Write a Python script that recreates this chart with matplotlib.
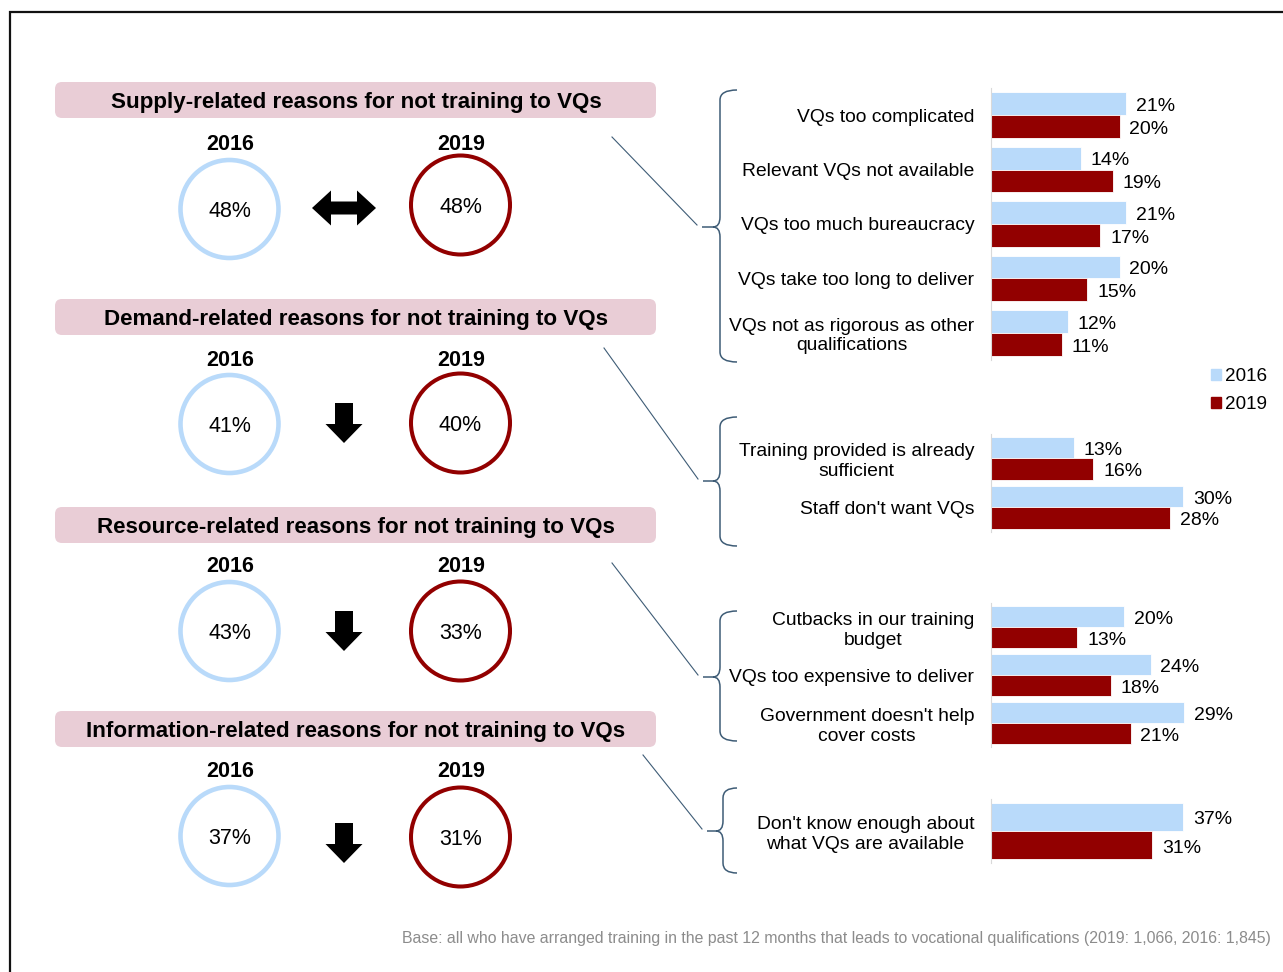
import matplotlib.pyplot as plt
import matplotlib.patches as mpatches
from matplotlib.path import Path
import numpy as np

plt.rcParams['font.family'] = ['Liberation Sans', 'DejaVu Sans']

W, H = 1283, 972
LIGHT = '#B9DAFA'
DARK = '#920000'
PINK = '#E9CDD6'
BRACE = '#3E5C76'

years = ['2016', '2019']

# headline share for each group of reasons
groups = ['Supply-related reasons for not training to VQs',
          'Demand-related reasons for not training to VQs',
          'Resource-related reasons for not training to VQs',
          'Information-related reasons for not training to VQs']
overall_2016 = [48, 41, 43, 37]
overall_2019 = [48, 40, 33, 31]

# detailed reasons within each group
supply_labels = ['VQs too complicated', 'Relevant VQs not available',
                 'VQs too much bureaucracy', 'VQs take too long to deliver',
                 'VQs not as rigorous as other\nqualifications']
supply_2016 = [21, 14, 21, 20, 12]
supply_2019 = [20, 19, 17, 15, 11]

demand_labels = ['Training provided is already\nsufficient', "Staff don't want VQs"]
demand_2016 = [13, 30]
demand_2019 = [16, 28]

resource_labels = ['Cutbacks in our training\nbudget', 'VQs too expensive to deliver',
                   "Government doesn't help\ncover costs"]
resource_2016 = [20, 24, 29]
resource_2019 = [13, 18, 21]

info_labels = ["Don't know enough about\nwhat VQs are available"]
info_2016 = [37]
info_2019 = [31]

footnote = ('Base: all who have arranged training in the past 12 months that leads to '
            'vocational qualifications (2019: 1,066, 2016: 1,845)')

# pixel layout: header centre, year label row, circle centres, arrow centre
rows = [(100, 142, 209, 205, 208),
        (317, 358, 424, 423, 423),
        (525, 564, 631, 631, 631),
        (729, 769, 836, 837, 843)]
# bar panels: top, bottom, pixels per percent, bar height
panels = [(88, 360, 6.43, 0.42),
          (434, 532, 6.4, 0.43),
          (603, 747, 6.65, 0.43),
          (799, 863, 5.2, 0.445)]
# braces: top, tip, bottom, spine x, tip x ; connectors start point
braces = [(90, 227, 362, 720, 702, (612, 137)),
          (417, 481, 546, 720, 703, (604, 348)),
          (611, 677, 741, 720, 703, (612, 563)),
          (788, 831, 873, 723, 707, (643, 755))]

fig = plt.figure(figsize=(W / 100, H / 100), dpi=100)
canvas = fig.add_axes([0, 0, 1, 1])
canvas.set_xlim(0, W)
canvas.set_ylim(H, 0)
canvas.axis('off')

# frame
canvas.plot([9.5, 9.5, W], [H, 12, 12], color='#111111', lw=1.6, solid_joinstyle='miter')


def arrow_points(kind, cx, cy):
    if kind == 'same':
        hw, hh, sh, hl = 32, 17.5, 6.5, 19
        return [(cx - hw, cy), (cx - hw + hl, cy - hh), (cx - hw + hl, cy - sh),
                (cx + hw - hl, cy - sh), (cx + hw - hl, cy - hh), (cx + hw, cy),
                (cx + hw - hl, cy + hh), (cx + hw - hl, cy + sh),
                (cx - hw + hl, cy + sh), (cx - hw + hl, cy + hh)]
    top = cy - 20
    return [(cx - 9, top), (cx + 9, top), (cx + 9, top + 21), (cx + 18.5, top + 21),
            (cx, top + 40), (cx - 18.5, top + 21), (cx - 9, top + 21)]


dy = 2.5  # nudge for text centred on its full box
for i, (hy, yy, c16, c19, ay) in enumerate(rows):
    canvas.add_patch(mpatches.FancyBboxPatch((55, hy - 18), 601, 36,
                     boxstyle='round,pad=0,rounding_size=7', fc=PINK, ec='none'))
    canvas.text(356, hy + dy, groups[i], ha='center', va='center',
                fontsize=16.1, fontweight='bold')
    canvas.text(230, yy + dy, years[0], ha='center', va='center', fontsize=15.5, fontweight='bold')
    canvas.text(461, yy + dy, years[1], ha='center', va='center', fontsize=15.5, fontweight='bold')
    canvas.add_patch(mpatches.Circle((229.5, c16), 49, fill=False, ec=LIGHT, lw=3.3))
    canvas.add_patch(mpatches.Circle((460.5, c19), 49.5, fill=False, ec=DARK, lw=2.9))
    canvas.text(229.5, c16 + dy, f'{overall_2016[i]}%', ha='center', va='center', fontsize=15.5)
    canvas.text(460.5, c19 + dy, f'{overall_2019[i]}%', ha='center', va='center', fontsize=15.5)
    kind = 'same' if overall_2019[i] == overall_2016[i] else 'down'
    canvas.add_patch(mpatches.Polygon(arrow_points(kind, 344, ay), closed=True,
                                      fc='black', ec='none'))


def brace_path(top, mid, bottom, x0, xt, xe=737, r=10):
    verts = [(xe, top), (x0, top), (x0, top + r),
             (x0, mid - r), (x0, mid), (x0 - 7, mid), (xt, mid),
             (x0 - 7, mid), (x0, mid), (x0, mid + r),
             (x0, bottom - r), (x0, bottom), (xe, bottom)]
    codes = [Path.MOVETO, Path.CURVE3, Path.CURVE3,
             Path.LINETO, Path.CURVE3, Path.CURVE3, Path.LINETO,
             Path.MOVETO, Path.CURVE3, Path.CURVE3,
             Path.LINETO, Path.CURVE3, Path.CURVE3]
    return Path(verts, codes)


for top, mid, bottom, x0, xt, (sx, sy) in braces:
    canvas.add_patch(mpatches.PathPatch(brace_path(top, mid, bottom, x0, xt),
                                        fc='none', ec=BRACE, lw=1.1))
    canvas.plot([sx, xt - 5], [sy, mid - 2], color=BRACE, lw=0.8)

canvas.text(1271, 938, footnote, ha='right', va='center', color='#8c8c8c',
            fontsize=11.4, family=['Liberation Sans Narrow', 'Liberation Sans'])

# bar panels
AX_LEFT, AX_RIGHT = 991, 1250
charts = [(supply_labels, supply_2016, supply_2019),
          (demand_labels, demand_2016, demand_2019),
          (resource_labels, resource_2016, resource_2019),
          (info_labels, info_2016, info_2019)]

for (labels, v16, v19), (top, bottom, scale, h) in zip(charts, panels):
    ax = fig.add_axes([AX_LEFT / W, 1 - bottom / H, (AX_RIGHT - AX_LEFT) / W, (bottom - top) / H])
    ax.patch.set_alpha(0)
    n = len(labels)
    y = np.arange(n)
    b16 = ax.barh(y - h / 2, v16, height=h, color=LIGHT, edgecolor='white', linewidth=0.6)
    b19 = ax.barh(y + h / 2, v19, height=h, color=DARK, edgecolor='white', linewidth=0.6)
    for bars, vals in ((b16, v16), (b19, v19)):
        for bar, v in zip(bars, vals):
            ax.annotate(f'{v}%', (v, bar.get_y() + bar.get_height() / 2),
                        xytext=(7, -2), textcoords='offset points',
                        ha='left', va='center', fontsize=14)
    ax.set_xlim(0, (AX_RIGHT - AX_LEFT) / scale)
    ax.set_ylim(n - 0.5, -0.5)
    ax.set_yticks(y, labels)
    for lab in ax.get_yticklabels():
        lab.set_multialignment('center')
    ax.tick_params(axis='y', length=0, pad=12, labelsize=13.9)
    ax.set_xticks([])
    for side in ('top', 'right', 'bottom'):
        ax.spines[side].set_visible(False)
    ax.spines['left'].set_color('#d9d9d9')

handles = [mpatches.Patch(color=LIGHT), mpatches.Patch(color=DARK)]
fig.legend(handles, years, loc='upper left', bbox_to_anchor=(1211 / W, 1 - 368 / H),
           frameon=False, fontsize=13.6, handlelength=0.55, handleheight=0.55,
           handletextpad=0.2, labelspacing=0.6, borderaxespad=0, borderpad=0)

fig.savefig('out.png', dpi=100)
